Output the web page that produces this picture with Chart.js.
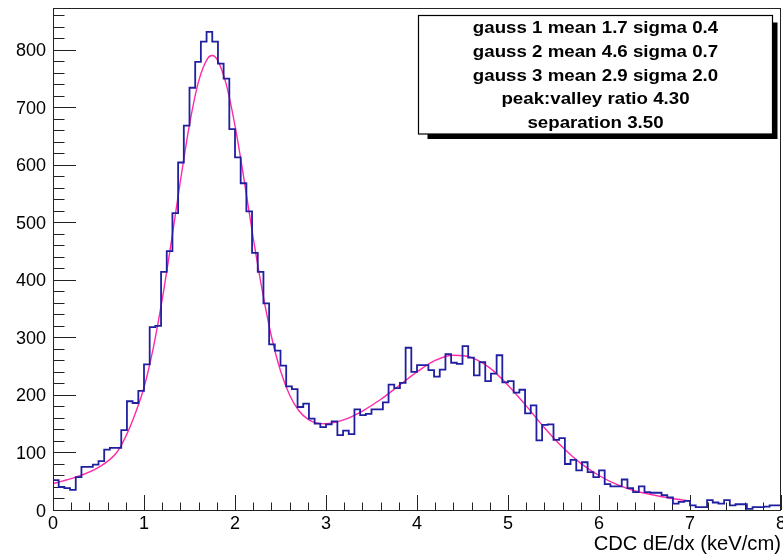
<!DOCTYPE html>
<html>
<head>
<meta charset="utf-8">
<script src="https://cdn.jsdelivr.net/npm/chart.js@4.4.0/dist/chart.umd.min.js"></script>
<style>
  html, body { margin: 0; padding: 0; background: #fff; }
  #wrap { width: 783px; height: 557px; }
</style>
</head>
<body>
<div id="wrap"><canvas id="dedx" width="783" height="557"></canvas></div>
<script>
// histogram range and bin contents (128 bins from 0 to 8 keV/cm)
const xMin = 0;
const xMax = 8;
const binCounts = [
  52, 40, 38, 35, 57, 75, 75, 79, 85, 105,
  108, 108, 139, 189, 186, 207, 253, 318, 320, 414,
  450, 516, 604, 668, 734, 779, 814, 831, 814, 776,
  750, 662, 613, 568, 519, 447, 414, 359, 288, 277,
  251, 215, 210, 179, 185, 159, 150, 144, 149, 154,
  130, 138, 132, 175, 165, 167, 175, 175, 187, 218,
  212, 221, 282, 240, 252, 252, 243, 232, 244, 271,
  256, 254, 285, 265, 234, 257, 224, 237, 269, 222,
  224, 204, 209, 168, 182, 121, 148, 149, 122, 125,
  80, 87, 69, 83, 66, 57, 69, 45, 41, 41,
  53, 38, 31, 41, 31, 30, 30, 26, 22, 11,
  14, 16, 8, 5, 5, 17, 13, 11, 17, 8,
  10, 10, 2, 5, 5, 6, 8, 8
];

// fit curve (triple gaussian)
const fitX = [0, 0.25, 0.5, 0.7, 0.8, 0.9, 1.0, 1.1, 1.2, 1.3, 1.4, 1.5, 1.6, 1.7, 1.75, 1.8, 1.9, 2.0,
  2.1, 2.2, 2.3, 2.4, 2.5, 2.6, 2.7, 2.8, 2.9, 3.0, 3.2, 3.4, 3.6, 3.8, 4.0, 4.2, 4.4, 4.6,
  4.8, 5.0, 5.2, 5.4, 5.6, 5.8, 6.0, 6.2, 6.4, 6.6, 6.8, 7.0];
const fitY = [46, 57, 74, 100, 128, 166, 213, 280, 366, 466, 572, 670, 745, 785, 790, 784, 742, 668,
  574, 473, 381, 302, 242, 200, 173, 158, 151, 150, 157, 172, 192, 216, 240, 260, 269, 265,
  247, 217, 181, 143, 109, 81, 60, 44, 33, 26, 20, 16];

const xTickLabels = ['0', '1', '2', '3', '4', '5', '6', '7', '8'];
const yTickLabels = ['0', '100', '200', '300', '400', '500', '600', '700', '800'];
const yMax = 872.6;

const statLines = [
  'gauss 1 mean 1.7 sigma 0.4',
  'gauss 2 mean 4.6 sigma 0.7',
  'gauss 3 mean 2.9 sigma 2.0',
  'peak:valley ratio 4.30',
  'separation 3.50'
];
const xTitle = 'CDC dE/dx (keV/cm)';

const binWidth = (xMax - xMin) / binCounts.length;
const histPoints = binCounts.map((v, i) => ({ x: xMin + i * binWidth, y: v }));
histPoints.push({ x: xMax, y: binCounts[binCounts.length - 1] });
const fitPoints = fitX.map((x, i) => ({ x: x, y: fitY[i] }));

const FONT = '"Liberation Sans", Arial, Helvetica, sans-serif';

// ROOT style frame, inward ticks, labels and stats box
const rootAxes = {
  id: 'rootAxes',
  beforeDatasetsDraw(chart) {
    const { ctx, chartArea: a, scales: { x, y } } = chart;
    ctx.save();
    ctx.strokeStyle = '#222';
    ctx.lineWidth = 1;
    ctx.beginPath();
    // y ticks: major every 100, minor every 20
    for (let v = 0; v <= yMax; v += 20) {
      const py = Math.round(y.getPixelForValue(v)) + 0.5;
      const len = (v % 100 === 0) ? 23 : 11.5;
      ctx.moveTo(a.left, py);
      ctx.lineTo(a.left + len, py);
    }
    // x ticks: major every 1, minor every 0.2
    for (let k = 0; k <= 40; k++) {
      const v = xMin + k * 0.2;
      const px = Math.round(x.getPixelForValue(v)) + 0.5;
      const len = (k % 5 === 0) ? 15 : 7.5;
      ctx.moveTo(px, a.bottom);
      ctx.lineTo(px, a.bottom - len);
    }
    ctx.stroke();
    ctx.restore();
  },
  afterDraw(chart) {
    const { ctx, chartArea: a, scales: { x, y } } = chart;
    ctx.save();
    // frame
    ctx.strokeStyle = '#222';
    ctx.lineWidth = 1;
    ctx.strokeRect(Math.round(a.left) + 0.5, Math.round(a.top) + 0.5,
      Math.round(a.right - a.left) - 1, Math.round(a.bottom - a.top));

    ctx.fillStyle = '#000';
    ctx.font = '18px ' + FONT;
    ctx.textAlign = 'right';
    ctx.textBaseline = 'alphabetic';
    yTickLabels.forEach(t => {
      ctx.fillText(t, a.left - 7, y.getPixelForValue(Number(t)) + 6.5);
    });
    ctx.textAlign = 'center';
    xTickLabels.forEach(t => {
      ctx.fillText(t, x.getPixelForValue(Number(t)), a.bottom + 19);
    });
    ctx.font = '20.2px ' + FONT;
    ctx.textAlign = 'right';
    ctx.fillText(xTitle, a.right, a.bottom + 40);

    // stats box with shadow
    const bx = 418.5, by = 15.5, bw = 354, bh = 118.5;
    ctx.fillStyle = '#000';
    ctx.beginPath();
    ctx.moveTo(bx + 9, by + bh);
    ctx.lineTo(bx + bw, by + bh);
    ctx.lineTo(bx + bw, by + 7);
    ctx.lineTo(bx + bw + 5, by + 7);
    ctx.lineTo(bx + bw + 5, by + bh + 5);
    ctx.lineTo(bx + 9, by + bh + 5);
    ctx.closePath();
    ctx.fill();
    ctx.fillStyle = '#fff';
    ctx.fillRect(bx, by, bw, bh);
    ctx.strokeStyle = '#000';
    ctx.lineWidth = 1.2;
    ctx.strokeRect(bx, by, bw, bh);

    ctx.fillStyle = '#000';
    ctx.font = 'bold 17px ' + FONT;
    ctx.textAlign = 'center';
    const slot = bh / statLines.length;
    statLines.forEach((line, i) => {
      ctx.save();
      ctx.translate(bx + bw / 2, by + slot * (i + 0.5) + 6);
      ctx.scale(1.1, 1);
      ctx.fillText(line, 0, 0);
      ctx.restore();
    });
    ctx.restore();
  }
};

const ctx = document.getElementById('dedx').getContext('2d');
const chart = new Chart(ctx, {
  type: 'line',
  data: {
    datasets: [
      {
        label: 'dE/dx',
        data: histPoints,
        stepped: true,
        borderColor: '#1f1fa0',
        borderWidth: 1.8,
        borderJoinStyle: 'miter',
        pointRadius: 0,
        fill: false
      },
      {
        label: 'fit',
        data: fitPoints,
        borderColor: '#ff2aa8',
        borderWidth: 1.4,
        pointRadius: 0,
        cubicInterpolationMode: 'monotone',
        fill: false
      }
    ]
  },
  options: {
    responsive: false,
    animation: false,
    layout: { padding: { top: 8, right: 2, left: 0, bottom: 0 } },
    plugins: {
      legend: { display: false },
      tooltip: { enabled: false }
    },
    scales: {
      x: {
        type: 'linear',
        min: xMin,
        max: xMax,
        grid: { display: false },
        border: { display: false },
        ticks: { display: false },
        afterFit: s => { s.height = 47; }
      },
      y: {
        min: 0,
        max: yMax,
        grid: { display: false },
        border: { display: false },
        ticks: { display: false },
        afterFit: s => { s.width = 53; }
      }
    }
  },
  plugins: [rootAxes]
});
</script>
</body>
</html>
